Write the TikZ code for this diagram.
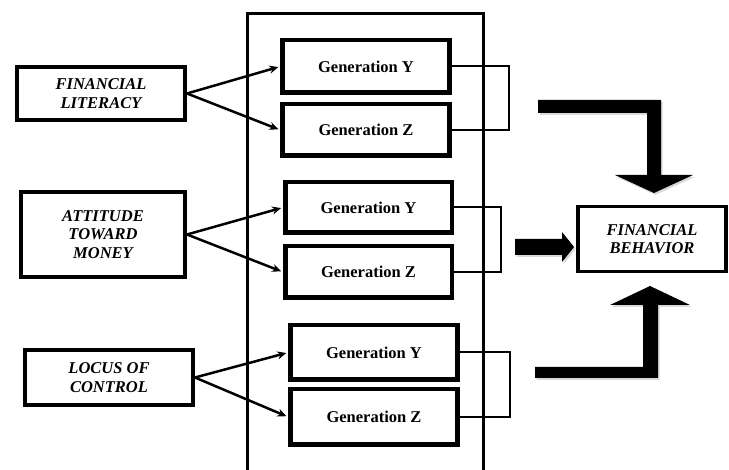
\documentclass[tikz,border=0pt]{standalone}
\usepackage{fontspec}
\setmainfont{Liberation Serif}
\usetikzlibrary{arrows.meta,shadows}
\tikzset{
  softshadow/.style={drop shadow={opacity=0.3,shadow xshift=1.5pt,shadow yshift=-2pt}},
  genbox/.style={draw,line width=4.5pt,fill=white,softshadow,minimum width=167pt,minimum height=52pt,
    font=\fontsize{16.5}{18}\selectfont\bfseries,inner sep=0pt},
  srcbox/.style={draw,line width=4pt,fill=white,softshadow,minimum width=168pt,
    font=\fontsize{16.5}{18.5}\selectfont\bfseries\itshape,align=center,inner sep=0pt},
  thin arrow/.style={line width=2.5pt,-{Stealth[length=9pt,width=8pt]},shorten >=2pt},
  bracket/.style={line width=2pt},
  blockarrow/.style={fill=black,softshadow},
}
\begin{document}
\begin{tikzpicture}[x=1pt,y=-1pt]
\useasboundingbox (0,0) rectangle (729,470);
\clip (0,0) rectangle (729,470);
% container frame
\node[draw,line width=3pt,minimum width=236pt,minimum height=480pt,inner sep=0pt,softshadow,fill=white] (frame) at (365,254) {};

% generation boxes
\node[genbox,minimum height=52.5pt] (gy1) at (366,66.5) {Generation Y};
\node[genbox,minimum height=51.5pt] (gz1) at (366,130) {Generation Z};
\node[genbox,minimum width=166.5pt,minimum height=50.5pt] (gy2) at (368.5,207.5) {Generation Y};
\node[genbox,minimum width=166.5pt,minimum height=51.5pt] (gz2) at (368.5,272) {Generation Z};
\node[genbox,minimum height=54.5pt] (gy3) at (374,352.5) {Generation Y};
\node[genbox,minimum height=55.5pt] (gz3) at (374,417) {Generation Z};

% source boxes
\node[srcbox,minimum height=53pt] (fl) at (101,93.5) {FINANCIAL\\LITERACY};
\node[srcbox,minimum width=164pt,minimum height=85pt] (atm) at (103,234.5) {ATTITUDE\\TOWARD\\MONEY};
\node[srcbox,minimum height=55pt] (loc) at (109,377.5) {LOCUS OF\\CONTROL};

% outcome box
\node[srcbox,line width=3.5pt,minimum width=148pt,minimum height=65pt] (fb) at (652,239) {FINANCIAL\\BEHAVIOR};

% thin arrows
\draw[thin arrow] (fl.east) -- (gy1.west);
\draw[thin arrow] (fl.east) -- (gz1.west);
\draw[thin arrow] (atm.east) -- (gy2.west);
\draw[thin arrow] (atm.east) -- (gz2.west);
\draw[thin arrow] (loc.east) -- (gy3.west);
\draw[thin arrow] (loc.east) -- (gz3.west);

% brackets
\draw[bracket] (gy1.east) -- ++(57,0) coordinate (b1) |- (gz1.east);
\draw[bracket] (gy2.east) -- ++(47,0) coordinate (b2) |- (gz2.east);
\draw[bracket] (gy3.east) -- ++(50,0) coordinate (b3) |- (gz3.east);

% block arrows
\fill[blockarrow] (538,100) -- (661,100) -- (661,175) -- (693,175) -- (654,193) -- (615,175) -- (647,175) -- (647,113) -- (538,113) -- cycle;
\fill[blockarrow] (515,239) -- (562,239) -- (562,232) -- (574,247) -- (562,262) -- (562,255) -- (515,255) -- cycle;
\fill[blockarrow] (535,378) -- (658,378) -- (658,305) -- (690,305) -- (650,286) -- (610,305) -- (643,305) -- (643,367) -- (535,367) -- cycle;
\end{tikzpicture}
\end{document}
